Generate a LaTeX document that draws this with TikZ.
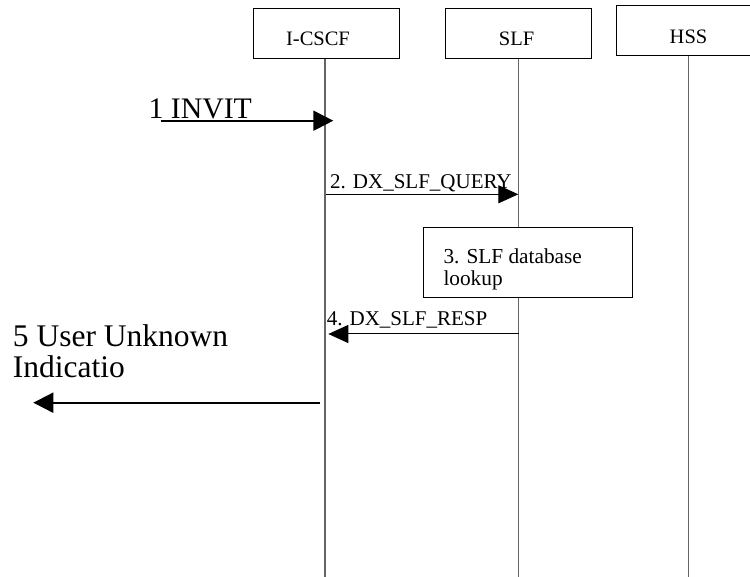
\documentclass[tikz,border=0pt]{standalone}
\usepackage{fontspec}
\setmainfont{Liberation Serif}
\usetikzlibrary{arrows.meta}
\begin{document}
\begin{tikzpicture}[x=1pt,y=-1pt,
  entbox/.style={draw=black,line width=1pt,fill=white},
  life/.style={draw=black!60,line width=1.4pt},
  small/.style={font=\fontsize{20.5}{24}\selectfont,inner sep=0pt,anchor=base},
  smallw/.style={font=\fontsize{21}{24}\selectfont,inner sep=0pt,anchor=base west},
  big/.style={font=\fontsize{29.8}{34}\selectfont,inner sep=0pt,anchor=base west},
  bigger/.style={font=\fontsize{31.5}{34}\selectfont,inner sep=0pt,anchor=base west},
  thin/.style={line width=1pt,-{Triangle[length=20pt,width=18pt]}},
  thick/.style={line width=2pt,-{Triangle[length=20pt,width=20pt]}}]
\useasboundingbox[fill=white] (0,0) rectangle (750,577);
% lifelines
\coordinate (l1b) at (325,577);
\coordinate (l2b) at (518.5,577);
\coordinate (l3b) at (688.5,577);
\coordinate (l1t) at (325,58.3);
\coordinate (l2t) at (518.5,58.3);
\coordinate (l3t) at (688.5,56);
\draw[life] (l1t) -- (l1b);
\draw[life] (l2t) -- (l2b);
\draw[life] (l3t) -- (l3b);
% entity boxes
\node[entbox,minimum width=146pt,minimum height=50pt,inner sep=0pt] (icscf) at (326.3,33.3) {};
\node[entbox,minimum width=146pt,minimum height=50pt,inner sep=0pt] (slf) at (518,33.3) {};
\node[entbox,minimum width=146pt,minimum height=50pt,inner sep=0pt] (hss) at (689,31) {};
\node[small] (icscft) at (318,46) {I-CSCF};
\node[small] (slft) at (516.6,46) {SLF};
\node[small] (hsst) at (688.5,43.5) {HSS};
% message 1
\node[big] (m1t) at (148.3,118.3) {1 INVIT};
\coordinate (m1s) at (160.7,120.7);
\coordinate (m1e) at (333.3,120.7);
\draw[thick] (m1s) -- (m1e);
% message 2
\node[smallw] (m2t) at (330,188.3) {2. DX\_SLF\_QUERY};
\coordinate (m2s) at (325.7,194.3);
\coordinate (m2e) at (518.3,194.3);
\draw[thin] (m2s) -- (m2e);
% box 3
\node[entbox,minimum width=209pt,minimum height=70pt,inner sep=0pt,anchor=north west] (b3) at (423.3,227.3) {};
\node[smallw,font=\fontsize{21.3}{24}\selectfont] (b3a) at (443.3,263.3) {3. SLF database};
\node[smallw,font=\fontsize{21.3}{24}\selectfont] (b3b) at (443.3,286) {lookup};
% message 4
\node[smallw] (m4t) at (326.7,325.7) {4. DX\_SLF\_RESP};
\coordinate (m4s) at (518.5,334);
\coordinate (m4e) at (328.3,334);
\draw[thin] (m4s) -- (m4e);
% message 5
\node[bigger] (m5a) at (12.7,346.7) {5 User Unknown};
\node[bigger] (m5b) at (12.7,377.3) {Indicatio};
\coordinate (m5s) at (320,402.7);
\coordinate (m5e) at (33.3,402.7);
\draw[thick] (m5s) -- (m5e);
\end{tikzpicture}
\end{document}
